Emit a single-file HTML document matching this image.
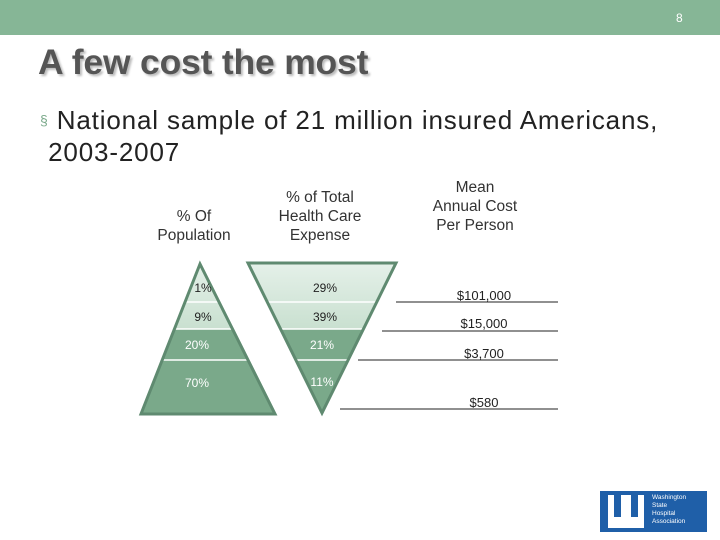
<!DOCTYPE html>
<html><head><meta charset="utf-8"><style>
body{margin:0;width:720px;height:540px;overflow:hidden;background:#fff;font-family:"Liberation Sans",sans-serif;position:relative}
.a{position:absolute}
</style></head><body>
<div class="a" style="left:0;top:0;width:720px;height:35px;background:#86b696"></div>
<div class="a" style="left:676px;top:11px;font-size:12px;color:#fff">8</div>
<div class="a" style="left:38px;top:42px;font-size:35.5px;font-weight:bold;color:#555;text-shadow:2px 2px 2px #bbb;letter-spacing:-0.2px">A few cost the most</div>
<div class="a" style="left:40px;top:104px;font-size:26px;color:#222;line-height:32px;width:690px;letter-spacing:0.85px;white-space:nowrap"><span style="color:#7aa98a;font-size:14px;vertical-align:4px">§</span> National sample of 21 million insured Americans,<br>&nbsp;2003-2007</div>
<div class="a" style="left:144px;top:207px;width:100px;text-align:center;font-size:15.5px;color:#333;line-height:19px">% Of<br>Population</div>
<div class="a" style="left:265px;top:188px;width:110px;text-align:center;font-size:15.5px;color:#333;line-height:19px">% of Total<br>Health Care<br>Expense</div>
<div class="a" style="left:420px;top:178px;width:110px;text-align:center;font-size:15.5px;color:#333;line-height:19px">Mean<br>Annual Cost<br>Per Person</div>
<svg class="a" style="left:0;top:0" width="720" height="540">
<defs>
<linearGradient id="lg" x1="0" y1="0" x2="0" y2="1"><stop offset="0" stop-color="#e6f1ea"/><stop offset="1" stop-color="#c9e0d0"/></linearGradient>
<clipPath id="cl"><polygon points="200,264 141,414 275,414"/></clipPath>
<clipPath id="cr"><polygon points="248,263 396,263 322,413"/></clipPath>
</defs>
<g clip-path="url(#cl)">
<rect x="130" y="260" width="160" height="69" fill="url(#lg)"/>
<rect x="130" y="329" width="160" height="90" fill="#7aa98a"/>
<line x1="130" y1="302" x2="290" y2="302" stroke="#fff" stroke-width="1.5"/>
<line x1="130" y1="329" x2="290" y2="329" stroke="#fff" stroke-width="1.5"/>
<line x1="130" y1="360" x2="290" y2="360" stroke="#fff" stroke-width="1.5"/>
</g>
<polygon points="200,264 141,414 275,414" fill="none" stroke="#5f8a70" stroke-width="3"/>
<g clip-path="url(#cr)">
<rect x="240" y="260" width="160" height="69" fill="url(#lg)"/>
<rect x="240" y="329" width="160" height="90" fill="#7aa98a"/>
<line x1="240" y1="302" x2="400" y2="302" stroke="#fff" stroke-width="1.5"/>
<line x1="240" y1="329" x2="400" y2="329" stroke="#fff" stroke-width="1.5"/>
<line x1="240" y1="360" x2="400" y2="360" stroke="#fff" stroke-width="1.5"/>
</g>
<polygon points="248,263 396,263 322,413" fill="none" stroke="#5f8a70" stroke-width="3"/>
<g font-size="12" text-anchor="middle" font-family="Liberation Sans,sans-serif">
<text x="203" y="292" fill="#222">1%</text>
<text x="203" y="321" fill="#222">9%</text>
<text x="197" y="349" fill="#fff">20%</text>
<text x="197" y="387" fill="#fff">70%</text>
<text x="325" y="292" fill="#222">29%</text>
<text x="325" y="321" fill="#222">39%</text>
<text x="322" y="349" fill="#fff">21%</text>
<text x="322" y="386" fill="#fff">11%</text>
</g>
<g stroke="#222" stroke-width="1">
<line x1="396" y1="302" x2="558" y2="302"/>
<line x1="382" y1="331" x2="558" y2="331"/>
<line x1="358" y1="360" x2="558" y2="360"/>
<line x1="340" y1="409" x2="558" y2="409"/>
</g>
<g font-size="13" text-anchor="middle" fill="#222" font-family="Liberation Sans,sans-serif">
<text x="484" y="300">$101,000</text>
<text x="484" y="328">$15,000</text>
<text x="484" y="358">$3,700</text>
<text x="484" y="407">$580</text>
</g>
</svg>
<div class="a" style="left:600px;top:491px;width:107px;height:41px;background:#1f5fa8">
<div class="a" style="left:8px;top:4px;width:36px;height:33px;background:#fff"></div>
<div class="a" style="left:14px;top:4px;width:7px;height:22px;background:#1f5fa8"></div>
<div class="a" style="left:31px;top:4px;width:7px;height:22px;background:#1f5fa8"></div>
<div class="a" style="left:52px;top:3px;font-size:6.5px;line-height:8px;color:#fff">Washington<br>State<br>Hospital<br>Association</div>
</div>
</body></html>
